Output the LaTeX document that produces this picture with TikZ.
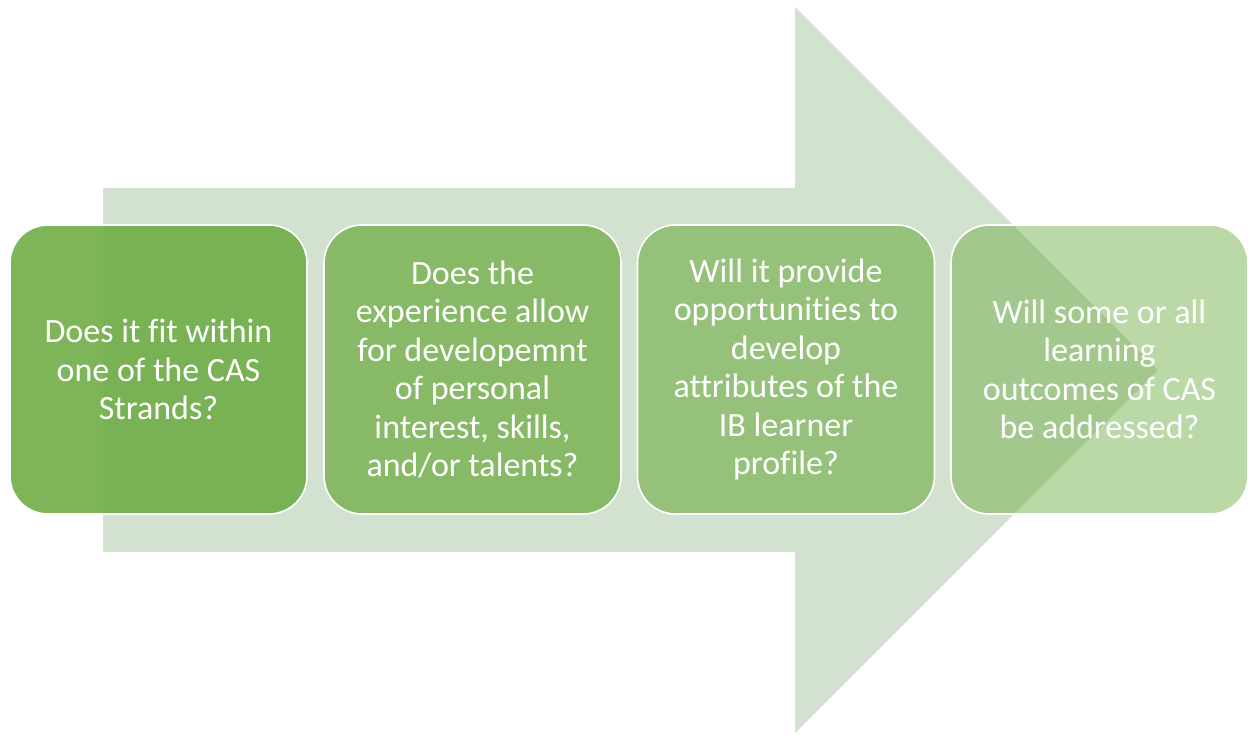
\documentclass[tikz,border=0pt]{standalone}
\usepackage{fontspec}
\setmainfont{Carlito}[Ligatures=NoCommon]
\usepackage{tikz}
\usetikzlibrary{calc,shapes,positioning}
\definecolor{casgreen}{HTML}{70AD47}
\definecolor{arrowgreen}{HTML}{D3E2D0}

\begin{document}
\begin{tikzpicture}[x=1pt,y=-1pt]
  \tikzstyle{qbox} = [draw=white, line width=1.6pt, fill=casgreen, rounded corners=38pt,
                      minimum width=297pt, minimum height=289pt, inner sep=0pt,
                      align=center, text=white, font=\fontsize{34}{38.5}\selectfont]

  \useasboundingbox (0,0) rectangle (1248,735);

  % the big arrow behind the boxes
  \fill[arrowgreen] (103,188) -- (795,188) -- (795,7) -- (1158,370)
                    -- (795,733) -- (795,552) -- (103,552) -- cycle;

  \node[qbox, fill opacity=0.9,  text opacity=1, draw opacity=1] (strands)  at (158.5,369.5)
       {Does it fit within\\one of the CAS\\Strands?};
  \node[qbox, fill opacity=0.76, text opacity=1, draw opacity=1] (interest) at (472.5,369.5)
       {Does the\\experience allow\\for developemnt\\of personal\\interest, skills,\\and/or talents?};
  \node[qbox, fill opacity=0.62, text opacity=1, draw opacity=1] (profile)  at (786,369.5)
       {Will it provide\\opportunities to\\develop\\attributes of the\\IB learner\\profile?};
  \node[qbox, fill opacity=0.48, text opacity=1, draw opacity=1] (outcomes) at (1099.5,369.5)
       {Will some or all\\learning\\outcomes of CAS\\be addressed?};
\end{tikzpicture}
\end{document}
